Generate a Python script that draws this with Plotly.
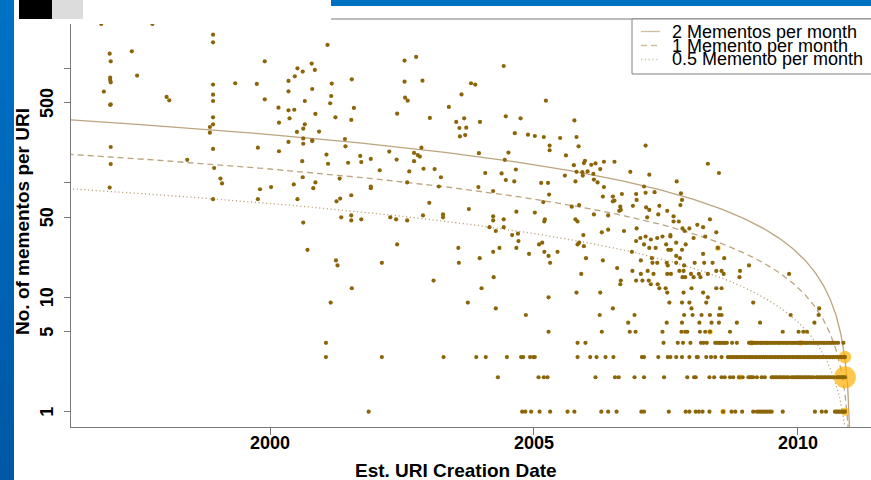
import numpy as np
import plotly.graph_objects as go

# ---------------- data ----------------
# scattered URIs: estimated creation year and number of mementos
years_other = [
    1996.80, 1997.77, 1998.92, 1998.92, 1996.96, 1996.98, 1997.38, 1997.48, 1996.97, 1996.97,
    1996.98, 1996.85, 1996.97, 1996.98, 1998.04, 1998.09, 1998.92, 1998.92, 1998.92, 1998.92,
    1998.92, 1998.86, 1998.86, 1998.92, 1996.98, 1996.98, 1996.96, 1998.43, 1998.94, 1999.06,
    1999.09, 1998.92, 1999.34, 1999.75, 1999.90, 1999.90, 1999.77, 1999.81, 1999.77, 2000.02,
    2000.16, 2000.17, 2000.17, 2000.35, 2000.35, 2000.35, 2000.37, 2000.35, 2000.47, 2000.52,
    2000.62, 2000.79, 2000.85, 2001.09, 2000.80, 2000.66, 2000.46, 2000.86, 2000.66, 2000.63,
    2000.51, 2000.63, 2000.63, 2000.80, 2000.80, 2000.93, 2001.17, 2001.16, 2001.14, 2001.24,
    2001.07, 2001.10, 2000.61, 2000.62, 2000.45, 2000.86, 2000.82, 2000.52, 2001.26, 2000.63,
    2000.71, 2001.25, 2001.28, 2001.15,
    2002.55, 2002.77, 2001.55, 2002.55, 2002.89, 2002.56, 2002.61, 2001.59, 2002.41, 2003.03,
    2001.54, 2001.42, 2001.43, 2001.48, 2001.71, 2001.73, 2001.91, 2002.08, 2002.26, 2002.40,
    2002.64, 2002.73, 2002.80, 2002.84, 2002.87, 2002.73, 2002.91, 2003.12, 2002.60, 2003.24,
    2003.20, 2001.91, 2001.91, 2001.32, 2001.33, 2001.54, 2001.35, 2001.54, 2001.54, 2001.73,
    2002.28, 2002.39, 2002.60, 2002.90, 2003.02, 2003.28, 2003.28, 2003.63, 2003.39, 2003.53,
    2003.68, 2003.59, 2003.72, 2003.60, 2003.70, 2003.81, 2003.89, 2003.98, 2003.96, 2004.08,
    2003.95, 2004.23, 2003.77, 2004.23, 2004.23, 2004.43, 2004.43, 2004.47, 2004.75, 2004.64,
    2004.89, 2005.02, 2005.19, 2004.52, 2004.45, 2004.66, 2004.39, 2004.47, 2004.63, 2004.67,
    2005.02, 2005.14, 2005.27, 2005.29, 2005.18, 2005.21, 2005.20, 2005.23, 2005.30, 2005.30,
    2005.50, 2005.61, 2005.59, 2005.77, 2005.81, 2005.85, 2005.76, 2005.79, 2005.81, 2005.92,
    2005.93, 2006.02, 2005.95, 2005.97, 2006.09, 2006.17, 2006.13, 2006.14, 2006.21, 2006.26,
    2006.33, 2006.33, 2005.72, 2005.86, 2006.14, 2005.79, 2005.83, 2006.31,
    2001.55, 2002.12, 2002.41, 2003.10, 2003.57, 2003.58, 2003.75, 2003.975, 2004.01, 2004.16,
    2004.28, 2004.23, 2004.35, 2004.24, 2004.28, 2004.43, 2004.59, 2004.70, 2004.71, 2004.67,
    2004.85, 2004.91, 2005.10, 2005.16, 2005.20, 2005.28, 2005.31, 2005.45, 2005.28, 2005.28,
    2005.94, 2005.83, 2005.86, 2005.95, 2005.99, 2005.90, 2005.81, 2006.29, 2006.31, 2006.26,
    2006.25, 2006.29,
    2007.12, 2008.30, 2008.51, 2006.53, 2006.83, 2007.19, 2007.71, 2007.09, 2006.94, 2006.95,
    2007.12, 2007.29, 2006.67, 2006.50, 2006.53, 2006.50, 2006.64, 2006.65, 2006.62, 2006.88,
    2007.13, 2007.19, 2007.38, 2007.53, 2007.79, 2007.81, 2007.78, 2006.41, 2007.15, 2007.36,
    2007.65, 2007.65, 2007.75, 2008.10, 2008.34,
    2006.95, 2007.82, 2007.95, 2008.21, 2006.41, 2006.71, 2008.46, 2007.02, 2007.12, 2007.22,
    2007.34, 2007.44, 2007.59, 2007.59, 2007.86, 2008.03, 2008.25, 2006.94, 2007.09, 2007.19,
    2007.31, 2007.51, 2007.70, 2007.88, 2007.81, 2008.49, 2006.86, 2007.55, 2007.60, 2008.21,
    2007.77, 2007.70, 2007.24, 2007.03, 2008.61, 2007.25, 2007.34, 2007.52, 2007.54, 2007.70,
    2007.85, 2008.05, 2008.23, 2008.39, 2009.08, 2006.58, 2006.87, 2007.16, 2007.27, 2007.76,
    2007.84, 2007.03, 2007.53, 2007.60, 2007.98, 2008.03, 2008.13, 2008.16, 2008.30, 2008.46,
    2008.56, 2008.60, 2008.91, 2009.84, 2007.82, 2007.87, 2008.90, 2006.94, 2007.06, 2007.18,
    2006.65, 2006.64, 2007.22, 2007.35, 2007.38, 2007.50, 2007.53, 2007.84, 2007.99, 2008.21,
    2008.30, 2008.46, 2008.56, 2007.57, 2007.81, 2007.95, 2008.27, 2009.16, 2006.50, 2007.99,
    2008.53, 2010.41, 2006.91, 2007.85, 2008.01, 2008.18, 2008.34, 2008.51, 2008.56, 2009.87,
    2010.40,
]
counts_other = [
    2450, 2450, 1977, 1694, 1349, 1156, 1413, 867, 832, 794,
    757, 628, 480, 486, 564, 527, 723, 591, 520, 374,
    325, 308, 275, 198, 206, 146, 91, 159, 135, 109,
    99, 72, 743, 733, 1156, 538, 203, 88, 72, 92,
    455, 336, 189, 778, 632, 431, 367, 228, 855, 1004,
    940, 1104, 971, 1607, 662, 520, 436, 401, 325, 298,
    279, 245, 220, 236, 232, 281, 738, 575, 497, 374,
    177, 147, 155, 112, 97, 101, 90, 72, 69, 45,
    26, 21, 19, 9,
    1172, 1262, 805, 767, 783, 556, 523, 452, 403, 370,
    355, 242, 209, 150, 172, 152, 162, 129, 188, 160,
    126, 183, 175, 170, 203, 155, 133, 132, 101, 112,
    93, 93, 90, 109, 73, 78, 50, 52, 47, 48,
    50, 48, 47, 52, 67, 53, 50, 594, 461, 341,
    367, 302, 304, 255, 262, 743, 723, 341, 182, 122,
    92, 85, 59, 51, 47, 48, 1052, 382, 367, 272,
    264, 257, 252, 184, 159, 131, 121, 106, 103, 56,
    55, 100, 100, 79, 68, 48, 46, 523, 212, 193,
    247, 174, 116, 352, 252, 209, 143, 103, 125, 124,
    116, 126, 149, 156, 144, 148, 120, 107, 101, 132,
    153, 92, 62, 64, 53, 48, 46, 76,
    12, 20, 29, 14, 27, 20, 9, 22, 12, 41,
    38, 25, 27, 15, 8, 41, 35, 36, 31, 27,
    7, 24, 29, 30, 25, 23, 20, 25, 10, 5,
    35, 29, 30, 28, 22, 16, 11, 37, 21, 11,
    7, 5,
    212, 147, 122, 153, 125, 118, 103, 93, 80, 71,
    82, 83, 80, 76, 70, 69, 62, 58, 57, 63,
    61, 58, 63, 57, 81, 71, 64, 52, 50, 53,
    51, 46, 46, 43, 48,
    40, 40, 40, 41, 39, 38, 37, 33, 34, 32,
    33, 34, 34, 35, 38, 33, 34, 31, 29, 27,
    27, 29, 30, 29, 26, 27, 25, 26, 26, 24,
    22, 23, 22, 21, 22, 20, 20, 20, 19, 20,
    19, 20, 20, 20, 19, 18, 17, 17, 16, 17,
    17, 16, 16, 16, 16, 15, 16, 15, 16, 17,
    17, 16, 17, 16, 15, 15, 15, 14, 14, 14,
    14, 13, 13, 13, 12, 12, 11, 11, 12, 11,
    10, 12, 12, 9, 9, 9, 9, 9, 8, 8,
    8, 8, 7, 7, 7, 7, 7, 7, 7, 7,
    7,
]

# URIs with 6 and 5 mementos
years_6 = [2006.79, 2007.52, 2007.81, 2008.14, 2008.37, 2008.51, 2008.85, 2009.29, 2010.32]
years_5 = [2006.82, 2006.93, 2007.44, 2007.80, 2007.87, 2007.91, 2008.15, 2008.25, 2008.34,
           2008.72, 2009.72, 2010.02, 2010.11, 2010.18]
# URIs with 4 mementos
years_4 = [2001.06, 2005.83, 2005.98, 2007.46, 2007.73, 2007.83, 2007.97, 2008.17, 2008.22,
           2008.28, 2008.44, 2008.48, 2008.52, 2008.55, 2008.59, 2008.62, 2008.66, 2008.76,
           2008.85, 2009.08, 2009.12, 2009.15, 2009.19, 2009.22, 2009.26, 2009.30, 2009.33,
           2009.37, 2009.41, 2009.44, 2009.48, 2009.52, 2009.55, 2009.59, 2009.63, 2009.66,
           2009.70, 2009.74, 2009.78, 2009.81, 2009.85, 2009.89, 2009.92, 2009.96, 2010.00,
           2010.03, 2010.07, 2010.11, 2010.15, 2010.18, 2010.22, 2010.26, 2010.30, 2010.33,
           2010.37, 2010.41, 2010.45, 2010.49, 2010.52, 2010.56, 2010.60, 2010.64, 2010.68,
           2010.72, 2010.77, 2010.87]
# URIs with 3 mementos
years_3 = [2001.06, 2002.12, 2003.29, 2003.91, 2004.09, 2004.49, 2004.76, 2004.80, 2004.93,
           2004.99, 2005.02, 2005.83, 2006.07, 2006.19, 2006.36, 2006.51, 2007.05, 2007.09,
           2007.36, 2007.54, 2007.59, 2007.70, 2007.81, 2007.95, 2008.09, 2008.11, 2008.27,
           2008.36, 2008.44, 2008.56, 2008.68, 2008.71, 2008.75, 2008.78, 2008.82, 2008.85,
           2008.88, 2008.92, 2008.95, 2008.99, 2009.02, 2009.06, 2009.09, 2009.13, 2009.16,
           2009.20, 2009.23, 2009.27, 2009.30, 2009.34, 2009.37, 2009.41, 2009.44, 2009.48,
           2009.51, 2009.55, 2009.58, 2009.62, 2009.65, 2009.69, 2009.72, 2009.76, 2009.79,
           2009.83, 2009.86, 2009.90, 2009.93, 2009.97, 2010.00, 2010.04, 2010.07, 2010.11,
           2010.14, 2010.18, 2010.21, 2010.25, 2010.28, 2010.32, 2010.35, 2010.39, 2010.42,
           2010.46, 2010.49, 2010.53, 2010.56, 2010.60, 2010.63, 2010.67, 2010.70, 2010.74,
           2010.77, 2010.81, 2010.84, 2010.87, 2010.90]
# URIs with 2 mementos
years_2 = [2004.32, 2005.09, 2005.19, 2005.26, 2006.17, 2006.54, 2006.61, 2006.91, 2007.09,
           2007.47, 2007.91, 2008.04, 2008.07, 2008.33, 2008.42, 2008.56, 2008.62, 2008.72,
           2008.78, 2008.89, 2008.96, 2009.07, 2009.10, 2009.13, 2009.16, 2009.23, 2009.32,
           2009.38, 2009.51, 2009.54, 2009.58, 2009.61, 2009.65, 2009.68, 2009.72, 2009.75,
           2009.79, 2009.83, 2009.89, 2009.92, 2009.96, 2009.99, 2010.02, 2010.05, 2010.08,
           2010.12, 2010.15, 2010.19, 2010.22, 2010.26, 2010.30, 2010.36, 2010.39, 2010.43,
           2010.46, 2010.50, 2010.53, 2010.57, 2010.60, 2010.64, 2010.68, 2010.74, 2010.77,
           2010.80, 2010.83, 2010.86, 2010.88, 2010.90]
# URIs with 1 memento
years_1 = [2001.87, 2004.78, 2004.84, 2004.95, 2005.11, 2005.31, 2005.64, 2005.77, 2006.28,
           2006.41, 2006.57, 2007.04, 2007.09, 2007.56, 2007.88, 2007.95, 2008.07, 2008.13,
           2008.20, 2008.33, 2008.59, 2008.75, 2008.82, 2008.95, 2009.16, 2009.23, 2009.27,
           2009.31, 2009.35, 2009.39, 2009.43, 2009.47, 2009.51, 2009.72, 2010.33, 2010.46,
           2010.54, 2010.71, 2010.74, 2010.77, 2010.80, 2010.83, 2010.86, 2010.88, 2010.90]

# coincident points (drawn as orange circles sized by multiplicity)
dup_years = [2010.90, 2010.90, 2010.90, 2008.49, 2008.34, 2008.59, 2008.91, 2009.13, 2010.06]
dup_counts = [2, 3, 1, 27, 5, 1, 2, 4, 4]
dup_mult = [30, 10, 4, 2, 2, 2, 2, 2, 2]

# reference rates
rate_labels = ["2 Mementos per month", "1 Memento per month", "0.5 Memento per month"]
rates_per_month = [2, 1, 0.5]
end_date = 2011.02
x_range = [1996.227, 2011.393]
y_range_log = [-0.1337, 3.4327]
x_tickvals = [2000, 2005, 2010]
y_tickvals = [1, 5, 10, 50, 100, 500, 1000]
y_ticktext = ["1", "5", "10", "50", "", "500", ""]

# ---------------- figure ----------------
W, H = 871, 480
L, R, T, B = 71, 871, 19, 427


def px(x):
    return (x - L) / (R - L)


def py(y):
    return (B - y) / (B - T)


FONT = "Liberation Sans, Arial, sans-serif"
DOT = "#8B6508"
CURVE = "#BCA47F"
dashes = ["solid", "6px,4px", "1.2px,2.6px"]

fig = go.Figure()

# model curves
for rate, dash in zip(rates_per_month, dashes):
    months = np.geomspace(0.01, (end_date - x_range[0]) * 12, 500)
    fig.add_trace(go.Scatter(
        x=end_date - months / 12, y=rate * months, mode="lines",
        line=dict(color=CURVE, width=1.3, dash=dash), hoverinfo="skip", showlegend=False))

# coincident points
fig.add_trace(go.Scatter(
    x=dup_years, y=dup_counts, mode="markers",
    marker=dict(color="#FFB000", size=[4 * np.sqrt(m) for m in dup_mult], line=dict(width=0)),
    showlegend=False))

all_x = (years_other + years_6 + years_5 + years_4 + years_3 + years_2 + years_1)
all_y = (counts_other + [6] * len(years_6) + [5] * len(years_5) + [4] * len(years_4)
         + [3] * len(years_3) + [2] * len(years_2) + [1] * len(years_1))
fig.add_trace(go.Scatter(
    x=all_x, y=all_y, mode="markers",
    marker=dict(color=DOT, size=4.2, line=dict(width=0)), showlegend=False))

axis_font = dict(family=FONT, size=18, color="black", weight="bold")
fig.update_xaxes(range=x_range, tickvals=x_tickvals, showline=True, linecolor="#7a7a7a",
                 linewidth=1, ticks="outside", ticklen=7, tickcolor="#7a7a7a",
                 showticklabels=False, showgrid=False, zeroline=False)
fig.update_yaxes(type="log", range=y_range_log, tickvals=y_tickvals,
                 showline=True, linecolor="#7a7a7a", linewidth=1,
                 ticks="outside", ticklen=6, tickcolor="#7a7a7a", showticklabels=False,
                 showgrid=False, zeroline=False)

annotations = []
# tick labels placed on the axes' own data coordinates
for v in x_tickvals:
    annotations.append(dict(text=str(v), xref="x", yref="paper", x=v, y=py(443),
                            xanchor="center", yanchor="middle", showarrow=False,
                            font=axis_font))
for v, t in zip(y_tickvals, y_ticktext):
    if t:
        annotations.append(dict(text=t, xref="paper", yref="y", x=px(47), y=np.log10(v),
                                xanchor="center", yanchor="middle", textangle=-90,
                                showarrow=False, font=axis_font))

shapes = []
# left blue strip (gradient)
n = 24
for i in range(n):
    t = i / (n - 1)
    c = (0, int(114 - 26 * t), int(198 - 32 * t))
    shapes.append(dict(type="rect", xref="paper", yref="paper", x0=px(0), x1=px(14),
                       y0=py(i * H / n), y1=py((i + 1) * H / n + 0.5),
                       fillcolor="rgb(%d,%d,%d)" % c, line=dict(width=0), layer="above"))
# top blue strip
shapes.append(dict(type="rect", xref="paper", yref="paper", x0=px(331), x1=px(871),
                   y0=py(0), y1=py(6), fillcolor="#0070C0", line=dict(width=0), layer="above"))
# logo area
shapes.append(dict(type="rect", xref="paper", yref="paper", x0=px(14), x1=px(331),
                   y0=py(-2), y1=py(24), fillcolor="white", line=dict(width=0), layer="above"))
shapes.append(dict(type="rect", xref="paper", yref="paper", x0=px(19), x1=px(52),
                   y0=py(-2), y1=py(19), fillcolor="black", line=dict(width=0), layer="above"))
shapes.append(dict(type="rect", xref="paper", yref="paper", x0=px(52), x1=px(83),
                   y0=py(-2), y1=py(19), fillcolor="#DCDCDC", line=dict(width=0), layer="above"))
# top frame line
shapes.append(dict(type="line", xref="paper", yref="paper", x0=px(331), x1=px(871),
                   y0=1, y1=1, line=dict(color="#7a7a7a", width=1), layer="above"))
# legend box
shapes.append(dict(type="rect", xref="paper", yref="paper", x0=px(632), x1=px(880),
                   y0=py(74), y1=py(19), fillcolor="white",
                   line=dict(color="#808080", width=1), layer="above"))

for i, (lab, dash) in enumerate(zip(rate_labels, dashes)):
    yy = 31.5 + 14 * i
    shapes.append(dict(type="line", xref="paper", yref="paper", x0=px(641), x1=px(660),
                       y0=py(yy), y1=py(yy), line=dict(color="#D2BE9C", width=1.3, dash=dash),
                       layer="above"))
    annotations.append(dict(text=lab, xref="paper", yref="paper", x=px(670), y=py(yy),
                            xanchor="left", yanchor="middle", showarrow=False,
                            font=dict(family=FONT, size=18, color="black")))

annotations.append(dict(text="No. of mementos per URI", xref="paper", yref="paper",
                        x=px(22), y=py(222), xanchor="center", yanchor="middle",
                        textangle=-90, showarrow=False,
                        font=dict(family=FONT, size=19, color="black", weight="bold")))
annotations.append(dict(text="Est. URI Creation Date", xref="paper", yref="paper",
                        x=px(456), y=py(470), xanchor="center", yanchor="middle",
                        showarrow=False,
                        font=dict(family=FONT, size=19, color="black", weight="bold")))
annotations.append(dict(text="delicious", xref="paper", yref="paper",
                        x=px(212), y=py(-24), xanchor="center", yanchor="middle",
                        showarrow=False,
                        font=dict(family=FONT, size=54, color="black", weight="bold")))

fig.update_layout(width=W, height=H, autosize=False,
                  margin=dict(l=L, r=W - R, t=T, b=H - B, pad=0),
                  paper_bgcolor="white", plot_bgcolor="white",
                  shapes=shapes, annotations=annotations, showlegend=False)

fig.write_html("out.html", config={"displayModeBar": False},
               post_script="document.body.style.margin='0px';")
